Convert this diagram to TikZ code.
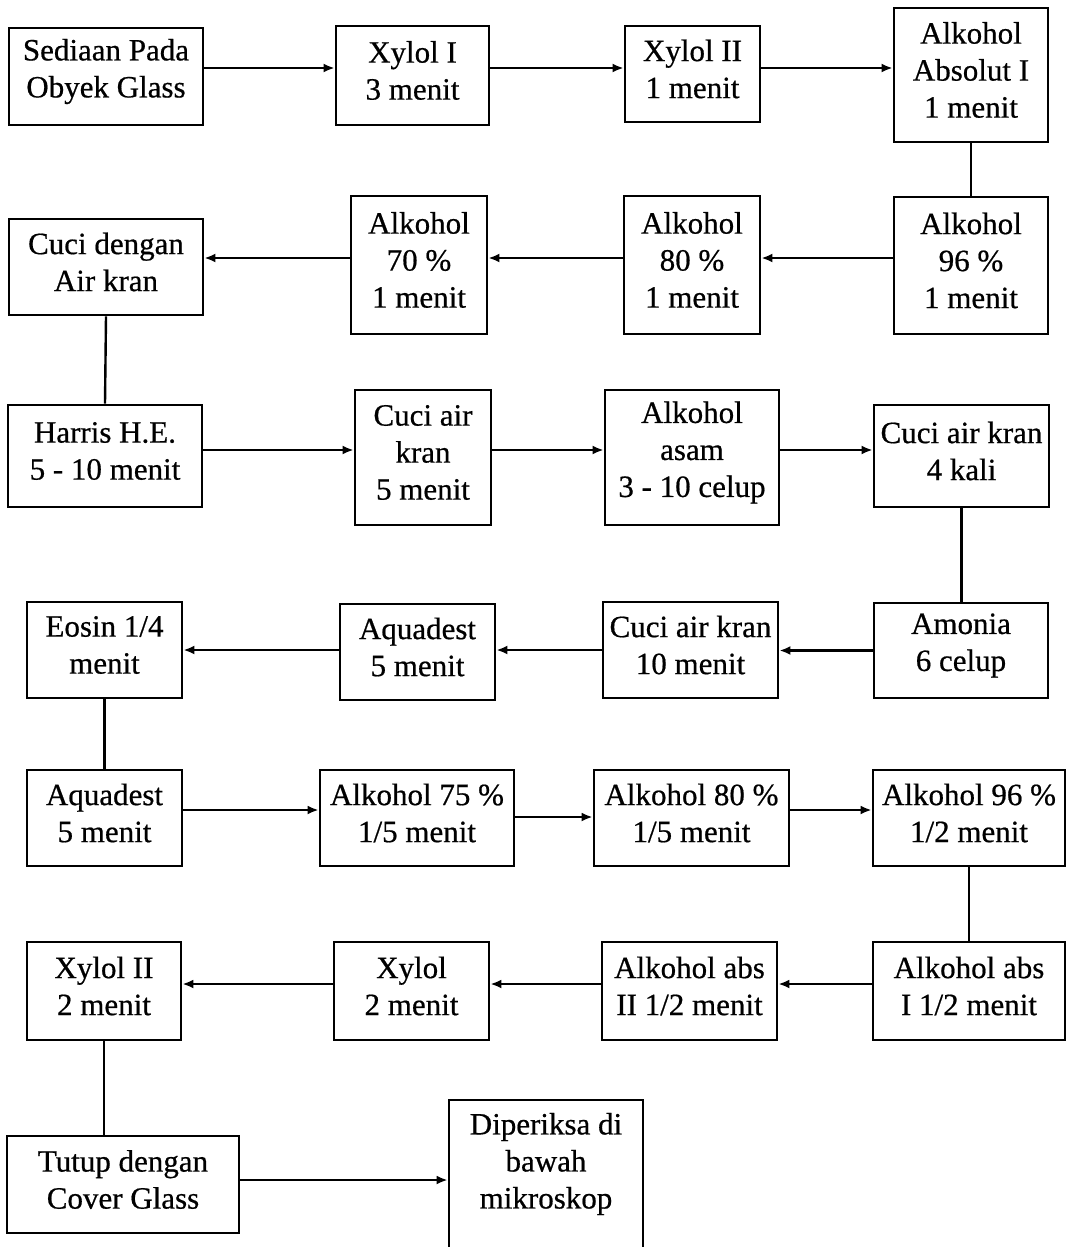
\documentclass[tikz,border=0pt]{standalone}
\usepackage{fontspec}
\setmainfont{Liberation Serif}
\newfontfamily\boxfont{Liberation Serif}[FakeBold=0.6]
\usetikzlibrary{arrows.meta}
\tikzset{
  box/.style={draw, line width=2.8pt, inner sep=0pt},
  txt/.style={inner sep=0pt, align=center, font=\boxfont\fontsize{31}{37}\selectfont},
  arr/.style={line width=2.4pt, -{Latex[length=11pt,width=9pt]}},
  link/.style={line width=2.4pt},
}
\newcommand\mybox[6]{%
  \node[box, minimum width={#4-#2}, minimum height={#5-#3}] (#1) at ({(#2+#4)/2},{(#3+#5)/2}) {};
  \node[txt] (#1t) at ([yshift=5pt]#1.center) {#6};}
\begin{document}
\begin{tikzpicture}[x=1pt,y=-1pt]
\path[use as bounding box] (0,0) rectangle (1069,1247);
\clip (0,0) rectangle (1069,1247);
% row 1
\mybox{A}{9}{28}{203}{125}{Sediaan Pada\\Obyek Glass}
\mybox{B}{336}{26}{489}{125}{Xylol I\\3 menit}
\mybox{C}{625}{26}{760}{122}{Xylol II\\1 menit}
\mybox{D}{894}{8}{1048}{142}{Alkohol\\Absolut I\\1 menit}
% row 2
\mybox{E}{9}{219}{203}{315}{Cuci dengan\\Air kran}
\mybox{F}{351}{196}{487}{334}{Alkohol\\70 \%\\1 menit}
\mybox{G}{624}{196}{760}{334}{Alkohol\\80 \%\\1 menit}
\mybox{H}{894}{197}{1048}{334}{Alkohol\\96 \%\\1 menit}
% row 3
\mybox{I}{8}{405}{202}{507}{Harris H.E.\\5 - 10 menit}
\mybox{J}{355}{390}{491}{525}{Cuci air\\kran\\5 menit}
\mybox{K}{605}{390}{779}{525}{Alkohol\\asam\\3 - 10 celup}
\mybox{L}{874}{405}{1049}{507}{Cuci air kran\\4 kali}
% row 4
\mybox{M}{27}{602}{182}{698}{Eosin 1/4\\menit}
\mybox{N}{340}{604}{495}{700}{Aquadest\\5 menit}
\mybox{O}{603}{602}{778}{698}{Cuci air kran\\10 menit}
\mybox{P}{874}{603}{1048}{698}{Amonia\\6 celup}
% row 5
\mybox{Q}{27}{770}{182}{866}{Aquadest\\5 menit}
\mybox{R}{320}{770}{514}{866}{Alkohol 75 \%\\1/5 menit}
\mybox{S}{594}{770}{789}{866}{Alkohol 80 \%\\1/5 menit}
\mybox{T}{873}{770}{1065}{866}{Alkohol 96 \%\\1/2 menit}
% row 6
\mybox{U}{27}{942}{181}{1040}{Xylol II\\2 menit}
\mybox{V}{334}{942}{489}{1040}{Xylol\\2 menit}
\mybox{W}{602}{942}{777}{1040}{Alkohol abs\\II 1/2 menit}
\mybox{X}{873}{942}{1065}{1040}{Alkohol abs\\I 1/2 menit}
% row 7
\mybox{Y}{7}{1136}{239}{1233}{Tutup dengan\\Cover Glass}
\node[box, minimum width=194, minimum height=160] (Z) at (546,1180) {};
\node[txt] (Zt) at (546,1164) {Diperiksa di\\bawah\\mikroskop};
% connectors
\draw[arr] ([yshift=8.5pt]A.east) -- ([yshift=8.5pt]A.east -| B.west);
\draw[arr] ([yshift=7.5pt]B.east) -- ([yshift=7.5pt]B.east -| C.west);
\draw[arr] ([yshift=6pt]C.east) -- ([yshift=6pt]C.east -| D.west);
\draw[link] (D.south) -- (H.north);
\draw[arr] ([yshift=7.5pt]H.west) -- ([yshift=7.5pt]H.west -| G.east);
\draw[arr] ([yshift=7pt]G.west) -- ([yshift=7pt]G.west -| F.east);
\draw[arr] ([yshift=7pt]F.west) -- ([yshift=7pt]F.west -| E.east);
\draw[link] (E.south) -- (I.north);
\draw[arr] ([yshift=6pt]I.east) -- ([yshift=6pt]I.east -| J.west);
\draw[arr] ([yshift=7.5pt]J.east) -- ([yshift=7.5pt]J.east -| K.west);
\draw[arr] ([yshift=7.5pt]K.east) -- ([yshift=7.5pt]K.east -| L.west);
\draw[link] (L.south) -- (L.south |- P.north);
\draw[arr] (P.west) -- (P.west -| O.east);
\draw[arr] (O.west) -- (O.west -| N.east);
\draw[arr] ([yshift=2pt]N.west) -- ([yshift=2pt]N.west -| M.east);
\draw[link] (M.south) -- (M.south |- Q.north);
\draw[arr] ([yshift=8pt]Q.east) -- ([yshift=8pt]Q.east -| R.west);
\draw[arr] ([yshift=1pt]R.east) -- ([yshift=1pt]R.east -| S.west);
\draw[arr] ([yshift=8pt]S.east) -- ([yshift=8pt]S.east -| T.west);
\draw[link] (T.south) -- (X.north);
\draw[arr] ([yshift=7pt]X.west) -- ([yshift=7pt]X.west -| W.east);
\draw[arr] ([yshift=7pt]W.west) -- ([yshift=7pt]W.west -| V.east);
\draw[arr] ([yshift=7pt]V.west) -- ([yshift=7pt]V.west -| U.east);
\draw[link] (U.south) -- (U.south |- Y.north);
\draw[arr] ([yshift=4.5pt]Y.east) -- ([yshift=4.5pt]Y.east -| Z.west);
\end{tikzpicture}
\end{document}
